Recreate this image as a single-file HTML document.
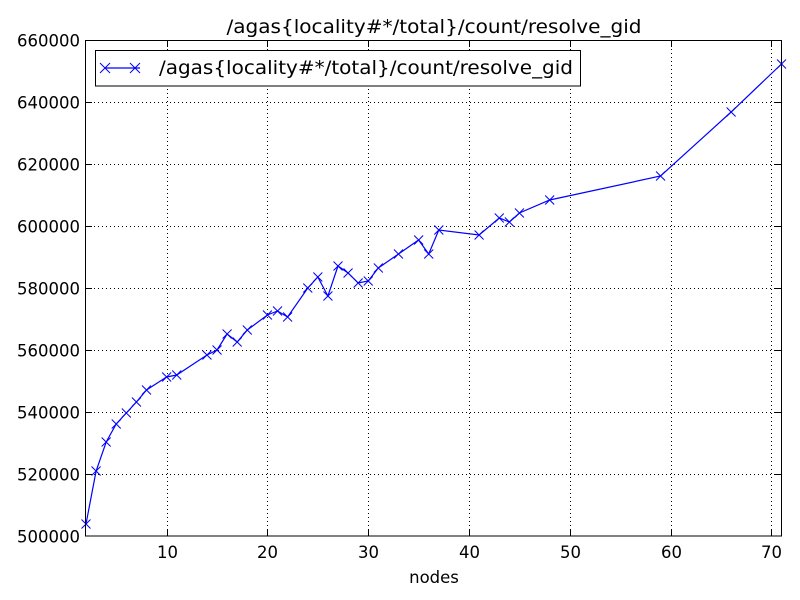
<!DOCTYPE html>
<html><head><meta charset="utf-8"><style>body{margin:0;background:#fff}svg{display:block}text{font-family:"DejaVu Sans","Liberation Sans",sans-serif;fill:#000}</style></head>
<body>
<svg id="s" width="800" height="600" xmlns="http://www.w3.org/2000/svg">
<rect width="800" height="600" fill="#fff"/>
<g id="grid" stroke="#000" stroke-width="1" stroke-dasharray="1,3" fill="none"></g>
<polyline id="line" fill="none" stroke="#0000ff" stroke-width="1.2"/>
<g id="marks" stroke="#0000ff" stroke-width="1" fill="none"></g>
<rect x="85.5" y="40.5" width="696" height="495.5" fill="none" stroke="#000" stroke-width="1"/>
<g id="ticks" stroke="#000" stroke-width="1"></g>
<g id="labels" font-size="16.5"></g>
<text x="434" y="33" font-size="19" text-anchor="middle" textLength="415" lengthAdjust="spacingAndGlyphs">/agas{locality#*/total}/count/resolve_gid</text>
<text x="434" y="583" font-size="16.5" text-anchor="middle">nodes</text>
<rect x="95.5" y="50.5" width="485" height="35.5" fill="#fff" stroke="#000" stroke-width="1"/>
<line x1="105" y1="68" x2="140" y2="68" stroke="#0000ff" stroke-width="1.2"/>
<path d="M100,63 l10,10 M110,63 l-10,10 M130,63 l10,10 M140,63 l-10,10" stroke="#0000ff" stroke-width="1"/>
<text x="159" y="74" font-size="19" textLength="414" lengthAdjust="spacingAndGlyphs">/agas{locality#*/total}/count/resolve_gid</text>
</svg>
<script>
var NS="http://www.w3.org/2000/svg";
function X(x){return 86+(x-2)*10.08;}
function Y(v){return 536-(v-500000)*496/160000;}
function el(p,t,a){var e=document.createElementNS(NS,t);for(var k in a)e.setAttribute(k,a[k]);document.getElementById(p).appendChild(e);return e;}
for(var x=10;x<=70;x+=10){var px=Math.round(X(x))+0.5;
el("grid","line",{x1:px,y1:41,x2:px,y2:536});
el("ticks","line",{x1:px,y1:536,x2:px,y2:530});el("ticks","line",{x1:px,y1:41,x2:px,y2:47});
var t=el("labels","text",{x:px,y:558,"text-anchor":"middle"});t.textContent=x;}
for(var v=500000;v<=660000;v+=20000){var py=Math.round(Y(v))+0.5;
if(v>500000&&v<660000){el("grid","line",{x1:86,y1:py,x2:781,y2:py});
el("ticks","line",{x1:86,y1:py,x2:92,y2:py});el("ticks","line",{x1:781,y1:py,x2:775,y2:py});}
var t=el("labels","text",{x:80,y:py+6,"text-anchor":"end"});t.textContent=v;}
var d=[[2,524],[3,471],[4,442],[5,424],[6,413],[7,402],[8,390],[10,377],[11,375],[14,355],[15,350],[16,334],[17,342],[18,330],[20,315],[21,311],[22,317],[24,288],[25,277],[26,296],[27,266],[28,273],[29,283],[30,281],[31,268],[33,254],[35,240],[36,254],[37,230],[41,235],[43,218],[44,222],[45,213],[48,200],[59,176],[66,112],[71,64]];
var pts=d.map(function(p){return X(p[0]).toFixed(1)+","+p[1];}).join(" ");
document.getElementById("line").setAttribute("points",pts);
d.forEach(function(p){var x=X(p[0]),y=p[1];el("marks","path",{d:"M"+(x-4.5)+","+(y-4.5)+"l9,9M"+(x+4.5)+","+(y-4.5)+"l-9,9"});});
</script>
</body></html>
